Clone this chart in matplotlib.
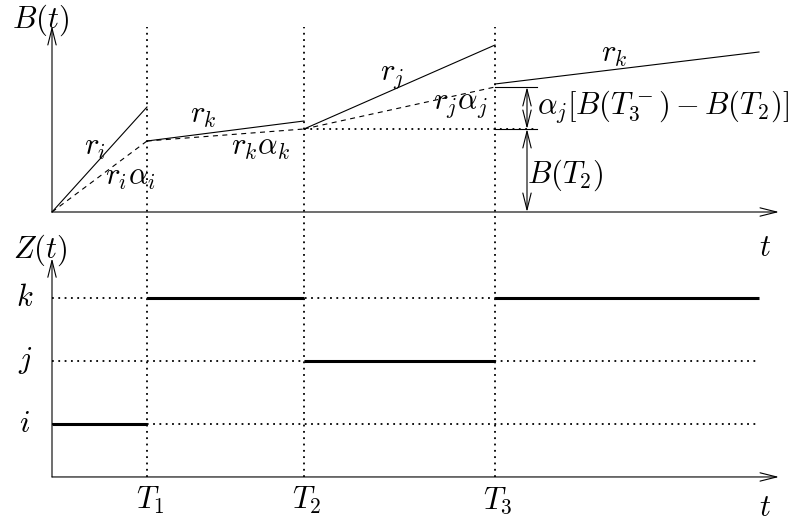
import matplotlib.pyplot as plt

plt.rcParams["mathtext.fontset"] = "cm"
plt.rcParams["font.family"] = ["DejaVu Serif"]

# switching times and end of the time window
T = [0.95, 2.52, 4.43]
t_end = 7.07

# B(t): full-rate path (solid) and retained path (dashed)
ri_t, ri_b = [0, T[0]], [0, 1.05]
riai_t, riai_b = [0, T[0]], [0, 0.71]
rk1_t, rk1_b = [T[0], T[1]], [0.71, 0.91]
rkak_t, rkak_b = [T[0], T[1]], [0.71, 0.83]
rj_t, rj_b = [T[1], T[2]], [0.83, 1.67]
rjaj_t, rjaj_b = [T[1], T[2]], [0.83, 1.25]
rk2_t, rk2_b = [T[2], t_end], [1.28, 1.60]
B_T2 = 0.83
B_T3 = 1.25

# Z(t): state levels and the piecewise-constant path
levels = [1, 2, 3]
level_labels = ["$i$", "$j$", "$k$"]
z_start = [0, T[0], T[1], T[2]]
z_stop = [T[0], T[1], T[2], t_end]
z_state = [1, 3, 2, 3]

fig = plt.figure(figsize=(7.98, 5.29), dpi=100)
ax_b = fig.add_axes([0, 0, 1, 1])
ax_z = fig.add_axes([0, 0, 1, 1])
for ax in (ax_b, ax_z):
    ax.set_axis_off()
    ax.patch.set_alpha(0)
    ax.set_xlim(-0.52, 7.46)
ax_b.set_ylim(-3.17, 2.12)
ax_z.set_ylim(-0.667, 7.730)

fs = 22
thin = 0.8
dotted = (0, (1, 2.5))
dashed = (0, (4.5, 4))
arr = dict(arrowstyle="->,head_length=1.2,head_width=0.3", lw=thin,
           color="black", shrinkA=0, shrinkB=0)
arr2 = dict(arr, arrowstyle="<->,head_length=1.2,head_width=0.3")

# axes of the upper panel
ax_b.annotate("", xy=(0, 1.86), xytext=(0, 0), arrowprops=arr)
ax_b.annotate("", xy=(7.27, 0), xytext=(0, 0), arrowprops=arr)

# axes of the lower panel
z0 = 0.159
ax_z.annotate("", xy=(0, 3.63), xytext=(0, z0), arrowprops=arr)
ax_z.annotate("", xy=(7.27, z0), xytext=(0, z0), arrowprops=arr)

# switching times, through both panels
for tt in T:
    ax_z.plot([tt, tt], [z0, 7.30], color="black", lw=1.3, ls=dotted)

# B(t) paths
for xs, ys in [(ri_t, ri_b), (rk1_t, rk1_b), (rj_t, rj_b), (rk2_t, rk2_b)]:
    ax_b.plot(xs, ys, color="black", lw=thin)
for xs, ys in [(riai_t, riai_b), (rkak_t, rkak_b), (rjaj_t, rjaj_b)]:
    ax_b.plot(xs, ys, color="black", lw=thin, ls=dashed)

# B(T2) level and the bracket at T3
x_tick_end = 4.85
x_arrow = 4.75
ax_b.plot([T[1], x_tick_end], [B_T2, B_T2], color="black", lw=1.3, ls=dotted)
ax_b.plot([T[2], x_tick_end], [B_T2, B_T2], color="black", lw=thin)
ax_b.plot([T[2], x_tick_end], [B_T3, B_T3], color="black", lw=thin)
ax_b.annotate("", xy=(x_arrow, B_T3), xytext=(x_arrow, B_T2), arrowprops=arr2)
ax_b.annotate("", xy=(x_arrow, B_T2), xytext=(x_arrow, 0), arrowprops=arr2)

# Z(t) levels and path
for lv, lab in zip(levels, level_labels):
    ax_z.plot([0, t_end], [lv, lv], color="black", lw=1.3, ls=dotted)
    ax_z.text(-0.27, lv, lab, fontsize=fs, ha="center", va="center")
for a, b, s in zip(z_start, z_stop, z_state):
    ax_z.plot([a, b], [s, s], color="black", lw=2.2, solid_capstyle="butt")

# labels
ax_b.text(-0.12, 1.92, "$B(t)$", fontsize=fs, ha="center", va="center")
ax_b.text(7.13, -0.36, "$t$", fontsize=fs, ha="center", va="center")
ax_b.text(0.43, 0.65, "$r_i$", fontsize=fs, ha="center", va="center")
ax_b.text(0.78, 0.36, r"$r_i\alpha_i$", fontsize=fs, ha="center", va="center")
ax_b.text(1.51, 0.98, "$r_k$", fontsize=fs, ha="center", va="center")
ax_b.text(2.09, 0.65, r"$r_k\alpha_k$", fontsize=fs, ha="center", va="center")
ax_b.text(3.40, 1.37, "$r_j$", fontsize=fs, ha="center", va="center")
ax_b.text(4.08, 1.08, r"$r_j\alpha_j$", fontsize=fs, ha="center", va="center")
ax_b.text(5.62, 1.59, "$r_k$", fontsize=fs, ha="center", va="center")
ax_b.text(4.85, 1.05, r"$\alpha_j[B(T_3^-)-B(T_2)]$", fontsize=fs,
          ha="left", va="center")
ax_b.text(4.75, 0.37, "$B(T_2)$", fontsize=fs, ha="left", va="center")

ax_z.text(-0.12, 3.75, "$Z(t)$", fontsize=fs, ha="center", va="center")
ax_z.text(7.13, -0.33, "$t$", fontsize=fs, ha="center", va="center")
for k, tt in enumerate(T):
    ax_z.text(tt + 0.03, -0.21, "$T_%d$" % (k + 1), fontsize=fs,
              ha="center", va="center")

fig.savefig("out.png", dpi=100)
